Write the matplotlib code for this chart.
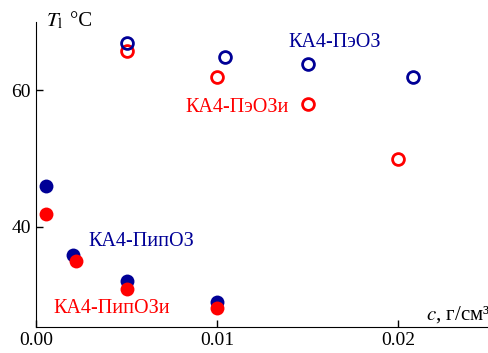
import numpy as np
import matplotlib
matplotlib.use("Agg")
import matplotlib.pyplot as plt

plt.rcParams['font.family'] = ['Liberation Serif', 'DejaVu Serif']

# КА4-ПипОЗ / КА4-ПипОЗи (filled)
c_pip = [0.0005, 0.002, 0.005, 0.010]
t_pip = [46.0, 35.9, 32.0, 29.0]
c_pipi = [0.0005, 0.0022, 0.005, 0.010]
t_pipi = [41.9, 34.9, 30.9, 28.0]

# КА4-ПэОЗ / КА4-ПэОЗи (open)
c_pe = [0.005, 0.0104, 0.015, 0.0208]
t_pe = [66.9, 64.8, 63.9, 61.9]
c_pei = [0.005, 0.010, 0.015, 0.020]
t_pei = [65.8, 61.9, 58.0, 49.9]

x_ticks = [0.0, 0.01, 0.02]
x_ticklabels = ['0.00', '0.01', '0.02']
y_ticks = [40, 60]

blue = '#000096'
red = '#ff0000'

fig = plt.figure(figsize=(4.89, 3.53), dpi=100)
ax = fig.add_axes([0.0746, 0.074, 0.9254, 0.864])

ax.plot(c_pip, t_pip, 'o', color=blue, ms=10, mec='none', zorder=3)
ax.plot(c_pipi, t_pipi, 'o', color=red, ms=10, mec='none', zorder=4)
ax.plot(c_pe, t_pe, 'o', mfc='none', mec=blue, ms=8.5, mew=2, zorder=4)
ax.plot(c_pei, t_pei, 'o', mfc='none', mec=red, ms=8.5, mew=2, zorder=3)

ax.set_xlim(0, 0.025)
ax.set_ylim(25.3, 70)
ax.set_xticks(x_ticks)
ax.set_xticklabels(x_ticklabels)
ax.set_yticks(y_ticks)
ax.tick_params(direction='in', length=5, width=1, labelsize=14, pad=4)
for s in ['top', 'right']:
    ax.spines[s].set_visible(False)

fs = 14.5
ax.text(0.0165, 67.0, 'КА4-ПэОЗ', color=blue, fontsize=fs, ha='center', va='center')
ax.text(0.0111, 57.5, 'КА4-ПэОЗи', color=red, fontsize=fs, ha='center', va='center')
ax.text(0.0058, 37.8, 'КА4-ПипОЗ', color=blue, fontsize=fs, ha='center', va='center')
ax.text(0.00416, 28.0, 'КА4-ПипОЗи', color=red, fontsize=fs, ha='center', va='center')

fig.text(0.094, 0.94, r'$T_{\mathrm{l}}$', fontsize=15, ha='left', va='center',
         math_fontfamily='stix')
fig.text(0.143, 0.94, '°C', fontsize=15, ha='left', va='center')
fig.text(0.872, 0.108, r'$c$, г/см³', fontsize=15, ha='left', va='center',
         math_fontfamily='stix')

fig.savefig('out.png', dpi=100)
